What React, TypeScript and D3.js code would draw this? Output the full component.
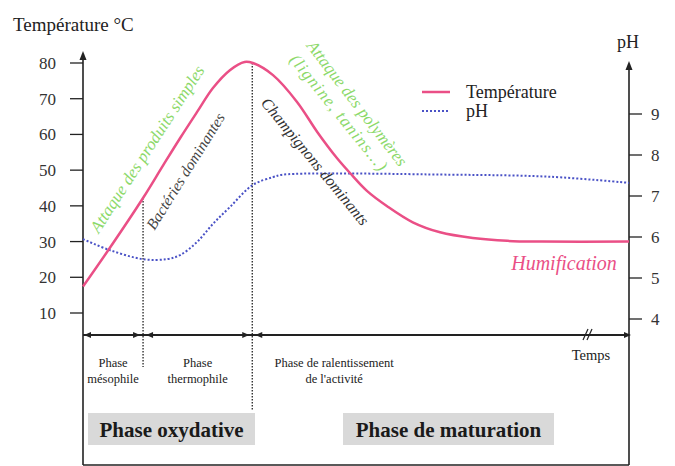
import React from "react";
import * as d3 from "d3";

// ---- data ----
const tempTimes = [0, 4.9, 11, 14.7, 17.8, 20.9, 23.8, 26.9, 29.6, 31.1, 34.8, 39.2, 42.9, 46.5, 48.9, 52, 55.7, 60.4, 65.4, 71.4, 77.7, 84, 100];
const tempValues = [17.4, 28.2, 42.2, 51.4, 59, 66.3, 73, 78, 80.3, 80, 76.6, 69.1, 60.7, 53.4, 49.2, 44.2, 39.9, 35.4, 32.6, 31, 30.2, 30, 30];
const phTimes = [0, 4.9, 11, 15.4, 17.8, 20.9, 23.8, 26.9, 31.1, 34.8, 36.6, 67.2, 85.5, 100];
const phValues = [5.95, 5.68, 5.46, 5.46, 5.56, 5.88, 6.32, 6.73, 7.27, 7.46, 7.52, 7.52, 7.47, 7.32];
const tempTicks = [10, 20, 30, 40, 50, 60, 70, 80];
const phTicks = [4, 5, 6, 7, 8, 9];
const phaseBounds = [0, 11, 31, 100];
const phaseLabels = [["Phase", "mésophile"], ["Phase", "thermophile"], ["Phase de ralentissement", "de l'activité"]];
const phaseLabelTimes = [5.5, 21, 46];

const PINK = "#ea4f86";
const BLUE = "#4a52c6";
const GREEN = "#8cd96a";
const SERIF = "Liberation Serif, DejaVu Serif, Times New Roman, serif";

export default function App() {
  const W = 675, H = 466;
  const x = d3.scaleLinear().domain([0, 100]).range([83, 629]);
  const yT = d3.scaleLinear().domain([10, 80]).range([313, 63]);
  const yP = d3.scaleLinear().domain([4, 9]).range([319, 114]);
  const axisY = 335;
  const bottomY = 465;
  const F = { fontFamily: SERIF };

  const tempData = tempTimes.map((t, i) => [t, tempValues[i]] as [number, number]);
  const phData = phTimes.map((t, i) => [t, phValues[i]] as [number, number]);
  const tempLine = d3.line<[number, number]>().x(d => x(d[0])).y(d => yT(d[1])).curve(d3.curveCatmullRom.alpha(0.5));
  const phLine = d3.line<[number, number]>().x(d => x(d[0])).y(d => yP(d[1])).curve(d3.curveCatmullRom.alpha(0.5));

  const arrowUp = (cx: number, ty: number) => `M${cx},${ty} L${cx - 3.5},${ty + 9} L${cx + 3.5},${ty + 9} Z`;
  const arrowRight = (tx: number, cy: number, s = 7) => `M${tx},${cy} L${tx - s},${cy - 3} L${tx - s},${cy + 3} Z`;
  const arrowLeft = (tx: number, cy: number, s = 7) => `M${tx},${cy} L${tx + s},${cy - 3} L${tx + s},${cy + 3} Z`;

  return (
    <div style={{ position: "absolute", left: 0, top: 0 }}>
      <svg width={W} height={H} style={{ display: "block", background: "#fff" }}>
        {/* axis titles */}
        <text {...F} x={13} y={31} fontSize={19} fill="#222">Température °C</text>
        <text {...F} x={628} y={48} fontSize={18} fill="#222" textAnchor="middle">pH</text>

        {/* left axis */}
        <line x1={83} x2={83} y1={bottomY} y2={56} stroke="#222" strokeWidth={1.6} />
        <path d={arrowUp(83, 51)} fill="#222" />
        {tempTicks.map(v => (
          <g key={"tt" + v}>
            <line x1={70} x2={83} y1={yT(v)} y2={yT(v)} stroke="#222" strokeWidth={1.3} />
            <text {...F} x={56} y={yT(v)} dy="0.35em" fontSize={17} textAnchor="end" fill="#333">{v}</text>
          </g>
        ))}

        {/* right axis */}
        <line x1={629} x2={629} y1={bottomY} y2={66} stroke="#222" strokeWidth={1.6} />
        <path d={arrowUp(629, 61)} fill="#222" />
        {phTicks.map(v => (
          <g key={"pt" + v}>
            <line x1={629} x2={642} y1={yP(v)} y2={yP(v)} stroke="#222" strokeWidth={1.3} />
            <text {...F} x={651} y={yP(v)} dy="0.35em" fontSize={17} fill="#333">{v}</text>
          </g>
        ))}

        {/* bottom frame */}
        <line x1={83} x2={629} y1={bottomY} y2={bottomY} stroke="#222" strokeWidth={1.4} />

        {/* time axis with phase arrows */}
        <line x1={83} x2={626} y1={axisY} y2={axisY} stroke="#222" strokeWidth={1.8} />
        <path d={arrowRight(631, axisY)} fill="#222" />
        {phaseBounds.slice(0, -1).map((b, i) => (
          <g key={"pa" + i}>
            <path d={arrowLeft(x(b) + (i === 0 ? 1 : 3), axisY)} fill="#222" />
            {i < phaseBounds.length - 2 && <path d={arrowRight(x(phaseBounds[i + 1]) - 3, axisY)} fill="#222" />}
          </g>
        ))}
        {/* break mark */}
        <line x1={583} x2={588} y1={axisY + 5} y2={axisY - 6} stroke="#222" strokeWidth={1.2} />
        <line x1={587} x2={592} y1={axisY + 5} y2={axisY - 6} stroke="#222" strokeWidth={1.2} />
        <text {...F} x={591} y={360} fontSize={14.5} textAnchor="middle" fill="#222">Temps</text>

        {/* phase boundary dotted lines */}
        <line x1={x(phaseBounds[1])} x2={x(phaseBounds[1])} y1={yT(42.2)} y2={367} stroke="#222" strokeWidth={1.3} strokeDasharray="1.5,1.5" />
        <line x1={x(phaseBounds[2])} x2={x(phaseBounds[2])} y1={yT(80)} y2={410} stroke="#222" strokeWidth={1.3} strokeDasharray="1.5,1.5" />

        {/* phase labels */}
        {phaseLabels.map((lines, i) => (
          <text {...F} key={"pl" + i} x={x(phaseLabelTimes[i])} y={367} fontSize={12.5} textAnchor="middle" fill="#222">
            <tspan x={x(phaseLabelTimes[i])} dy="0">{lines[0]}</tspan>
            <tspan x={x(phaseLabelTimes[i])} dy="16">{lines[1]}</tspan>
          </text>
        ))}

        {/* grey phase boxes */}
        <rect x={88} y={413} width={167} height={32} fill="#d9d9d9" />
        <text {...F} x={171.5} y={437} fontSize={21} fontWeight="bold" textAnchor="middle" fill="#1a1a1a">Phase oxydative</text>
        <rect x={343} y={413} width={211} height={32} fill="#d9d9d9" />
        <text {...F} x={448.5} y={437} fontSize={21} fontWeight="bold" textAnchor="middle" fill="#1a1a1a">Phase de maturation</text>

        {/* curves */}
        <path d={phLine(phData) || ""} fill="none" stroke={BLUE} strokeWidth={2} strokeDasharray="2,2" />
        <path d={tempLine(tempData) || ""} fill="none" stroke={PINK} strokeWidth={2.5} />

        {/* annotations */}
        <text {...F} transform="translate(152,152) rotate(-57)" fontSize={17} fontStyle="italic" textAnchor="middle" fill={GREEN}>Attaque des produits simples</text>
        <text {...F} transform="translate(190,174) rotate(-58)" fontSize={15.5} fontStyle="italic" textAnchor="middle" fill="#444">Bactéries dominantes</text>
        <text {...F} transform="translate(311,165) rotate(50.6)" fontSize={16} fontStyle="italic" textAnchor="middle" fill="#333">Champignons dominants</text>
        <text {...F} transform="translate(306,46) rotate(52.5)" fontSize={17} fontStyle="italic" fill={GREEN}>Attaque des polymères</text>
        <text {...F} transform="translate(289,60) rotate(51)" fontSize={17} letterSpacing={1.2} fontStyle="italic" fill={GREEN}>(lignine, tanins...)</text>
        <text {...F} x={564} y={270} fontSize={20} fontStyle="italic" textAnchor="middle" fill={PINK}>Humification</text>

        {/* legend */}
        <line x1={422} x2={450} y1={92} y2={92} stroke={PINK} strokeWidth={2.5} />
        <text {...F} x={466} y={92} dy="0.35em" fontSize={18} fill="#222">Température</text>
        <line x1={422} x2={450} y1={111} y2={111} stroke={BLUE} strokeWidth={2} strokeDasharray="2,2" />
        <text {...F} x={466} y={111} dy="0.35em" fontSize={18} fill="#222">pH</text>
      </svg>
    </div>
  );
}
